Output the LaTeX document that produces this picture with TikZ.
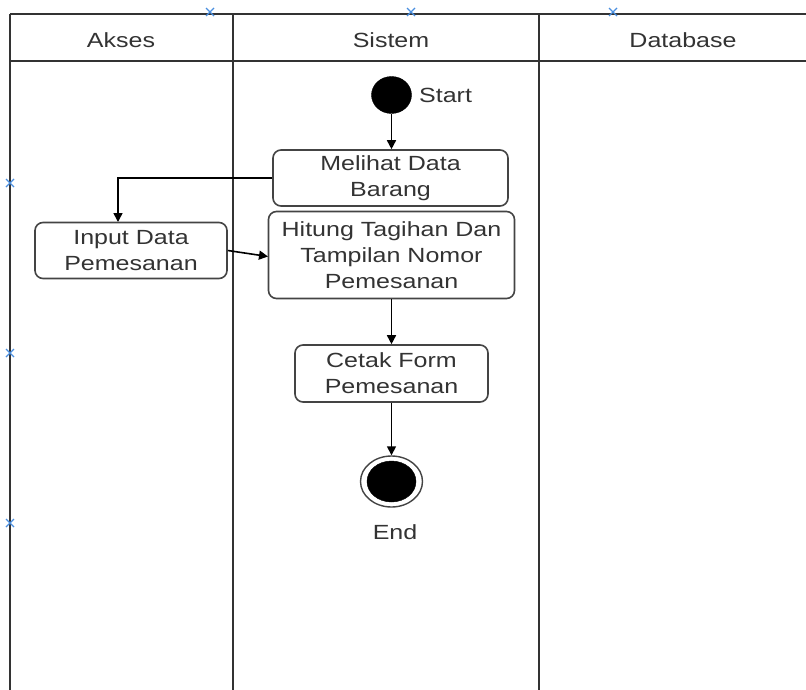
\documentclass[tikz,border=0pt]{standalone}
\usepackage{fontspec}
\setmainfont{Liberation Sans}[FakeStretch=1.22]
\usetikzlibrary{shapes.geometric,arrows.meta}
\definecolor{txt}{HTML}{333333}
\definecolor{lane}{HTML}{333333}
\definecolor{boxc}{HTML}{444444}
\definecolor{xblue}{HTML}{4A8FE0}
\tikzset{
  lbl/.style={font=\fontsize{20.5}{26.3}\selectfont, text=txt, align=center, inner sep=0pt},
  act/.style={lbl, draw=boxc, line width=1.6pt, rounded corners=8pt, fill=white},
  flow/.style={draw=black, line width=1.6pt, -{Triangle[length=9pt,width=9pt]}},
  laneline/.style={draw=lane, line width=2.2pt},
  xmark/.style={draw=xblue, line width=1.3pt}
}
\begin{document}
\begin{tikzpicture}[x=1pt,y=-1pt]
\useasboundingbox (0,0) rectangle (806,690);
\fill[white] (0,0) rectangle (806,690);
% swimlanes
\draw[laneline] (10,14) -- (806,14);
\draw[laneline] (10,61) -- (806,61);
\draw[laneline] (10,14) -- (10,690);
\draw[laneline] (233,14) -- (233,690);
\draw[laneline] (539,14) -- (539,690);
\node[lbl] (hAkses) at (121,40) {Akses};
\node[lbl] (hSistem) at (391,40) {Sistem};
\node[lbl] (hDb) at (683,40) {Database};
% blue crosses
\foreach \cx/\cy in {210/12, 411/12, 613/12, 10/183, 10/353, 10/523}{
  \draw[xmark] (\cx-4,\cy-4) -- (\cx+4,\cy+4);
  \draw[xmark] (\cx-4,\cy+4) -- (\cx+4,\cy-4);
}
% start
\node[ellipse, fill=black, draw=black, minimum width=40pt, minimum height=37pt, inner sep=0pt] (start) at (391.5,95) {};
\node[lbl, anchor=west] (startlbl) at (419,95) {Start};
% activities
\node[act, minimum width=235pt, minimum height=56pt] (melihat) at (390.5,178) {Melihat Data\\Barang};
\node[act, minimum width=246pt, minimum height=87pt] (hitung) at (391.5,255) {Hitung Tagihan Dan\\Tampilan Nomor\\Pemesanan};
\node[act, minimum width=192pt, minimum height=56pt] (input) at (131,250.5) {Input Data\\Pemesanan};
\node[act, minimum width=193pt, minimum height=57pt] (cetak) at (391.5,373.5) {Cetak Form\\Pemesanan};
% end
\node[ellipse, fill=white, draw=boxc, line width=1.4pt, minimum width=62pt, minimum height=51pt, inner sep=0pt] (endo) at (391.5,481.5) {};
\node[ellipse, fill=black, draw=black, minimum width=49pt, minimum height=41pt, inner sep=0pt] (endi) at (391.5,481.5) {};
\node[lbl] (endlbl) at (395,532) {End};
% connectors
\coordinate (inTop) at (118,222);
\draw[flow] (start.south) -- (start.south |- melihat.north);
\draw[flow] (melihat.west) -| (inTop);
\draw[flow] (input.east) -- (268,256.5);
\draw[flow] (hitung.south) -- (cetak.north);
\draw[flow] (cetak.south) -- (endo.north);
\end{tikzpicture}
\end{document}
